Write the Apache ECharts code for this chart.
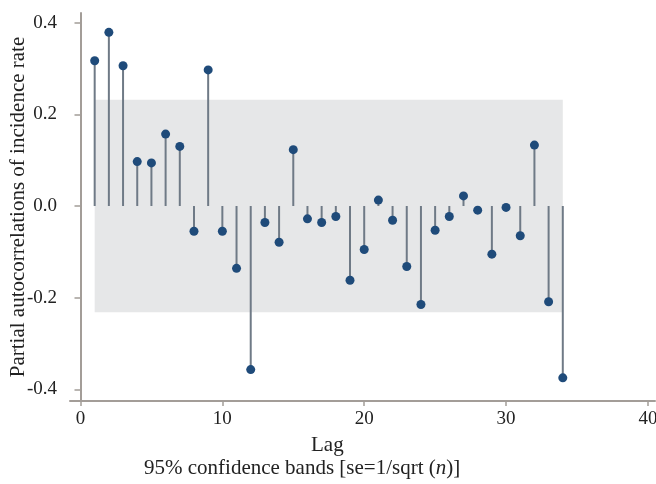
<!DOCTYPE html>
<html lang="en">
<head>
    <meta charset="UTF-8">
    <title>PACF</title>
    <script src="https://cdn.jsdelivr.net/npm/echarts@6/dist/echarts.min.js"></script>
</head>
<body style="margin:0">
<div id="main" style="width: 656px;height: 484px"></div>
<script type="text/javascript">
  // partial autocorrelations by lag
  var lags = [1, 2, 3, 4, 5, 6, 7, 8, 9, 10, 11, 12, 13, 14, 15, 16, 17,
    18, 19, 20, 21, 22, 23, 24, 25, 26, 27, 28, 29, 30, 31, 32, 33, 34];
  var pacf = [0.317, 0.379, 0.306, 0.097, 0.094, 0.157, 0.130, -0.055, 0.297, -0.055,
    -0.136, -0.357, -0.036, -0.079, 0.123, -0.028, -0.036, -0.023, -0.162, -0.095,
    0.013, -0.031, -0.132, -0.215, -0.053, -0.023, 0.022, -0.009, -0.105, -0.003,
    -0.065, 0.133, -0.209, -0.375];
  var band = [-0.232, 0.232];
  var xTicks = [0, 10, 20, 30, 40];
  var yTicks = [-0.4, -0.2, 0, 0.2, 0.4];

  var font = 'Liberation Serif';
  var axisColor = '#a39d98';

  var points = lags.map(function(l, i) { return [l, pacf[i]]; });

  var myChart = echarts.init(document.getElementById('main'));
  var option = {
    animation: false,
    grid: {left: 70, top: 13, width: 585, height: 388, outerBoundsMode: 'none', containLabel: false},
    xAxis: {
      type: 'value',
      min: -0.74,
      max: 40.5,
      splitLine: {show: false},
      axisLine: {onZero: false, lineStyle: {color: axisColor, width: 2}},
      axisTick: {customValues: xTicks, length: 5, lineStyle: {color: axisColor, width: 1.5}},
      axisLabel: {customValues: xTicks, margin: 9, color: '#222', fontFamily: font, fontSize: 19}
    },
    yAxis: {
      type: 'value',
      min: -0.4255,
      max: 0.4212,
      name: 'Partial autocorrelations of incidence rate',
      nameLocation: 'middle',
      nameGap: 41,
      nameMoveOverlap: false,
      nameTextStyle: {color: '#222', fontFamily: font, fontSize: 21},
      splitLine: {show: false},
      axisLine: {show: true, lineStyle: {color: axisColor, width: 2}},
      axisTick: {show: true, customValues: yTicks, length: 6, lineStyle: {color: axisColor, width: 1.5}},
      axisLabel: {
        customValues: yTicks, margin: 13, color: '#222', fontFamily: font, fontSize: 19,
        formatter: function(v) { return v.toFixed(1); }
      }
    },
    series: [{
      type: 'custom',
      data: points,
      renderItem: function(params, api) {
        var base = api.coord([api.value(0), 0]);
        var tip = api.coord([api.value(0), api.value(1)]);
        return {
          type: 'line',
          shape: {x1: base[0], y1: base[1], x2: tip[0], y2: tip[1]},
          style: {stroke: '#6f7a86', lineWidth: 2}
        };
      },
      markArea: {
        silent: true,
        itemStyle: {color: '#e6e7e8'},
        data: [[{xAxis: lags[0], yAxis: band[0]}, {xAxis: lags[lags.length - 1], yAxis: band[1]}]]
      },
      z: 2
    }, {
      type: 'scatter',
      data: points,
      symbolSize: 9,
      itemStyle: {color: '#1f4b7a', opacity: 1},
      z: 3
    }],
    graphic: [{
      type: 'text',
      left: 311, top: 435,
      style: {text: 'Lag', fill: '#222', font: '21px "Liberation Serif"'}
    }, {
      type: 'text',
      left: 144, top: 458,
      style: {
        text: '{a|95% confidence bands [se=1/sqrt (}{b|n}{a|)]}',
        rich: {
          a: {fill: '#222', fontFamily: font, fontSize: 21},
          b: {fill: '#222', fontFamily: font, fontSize: 21, fontStyle: 'italic'}
        }
      }
    }]
  };
  myChart.setOption(option);
</script>
</body>
</html>
